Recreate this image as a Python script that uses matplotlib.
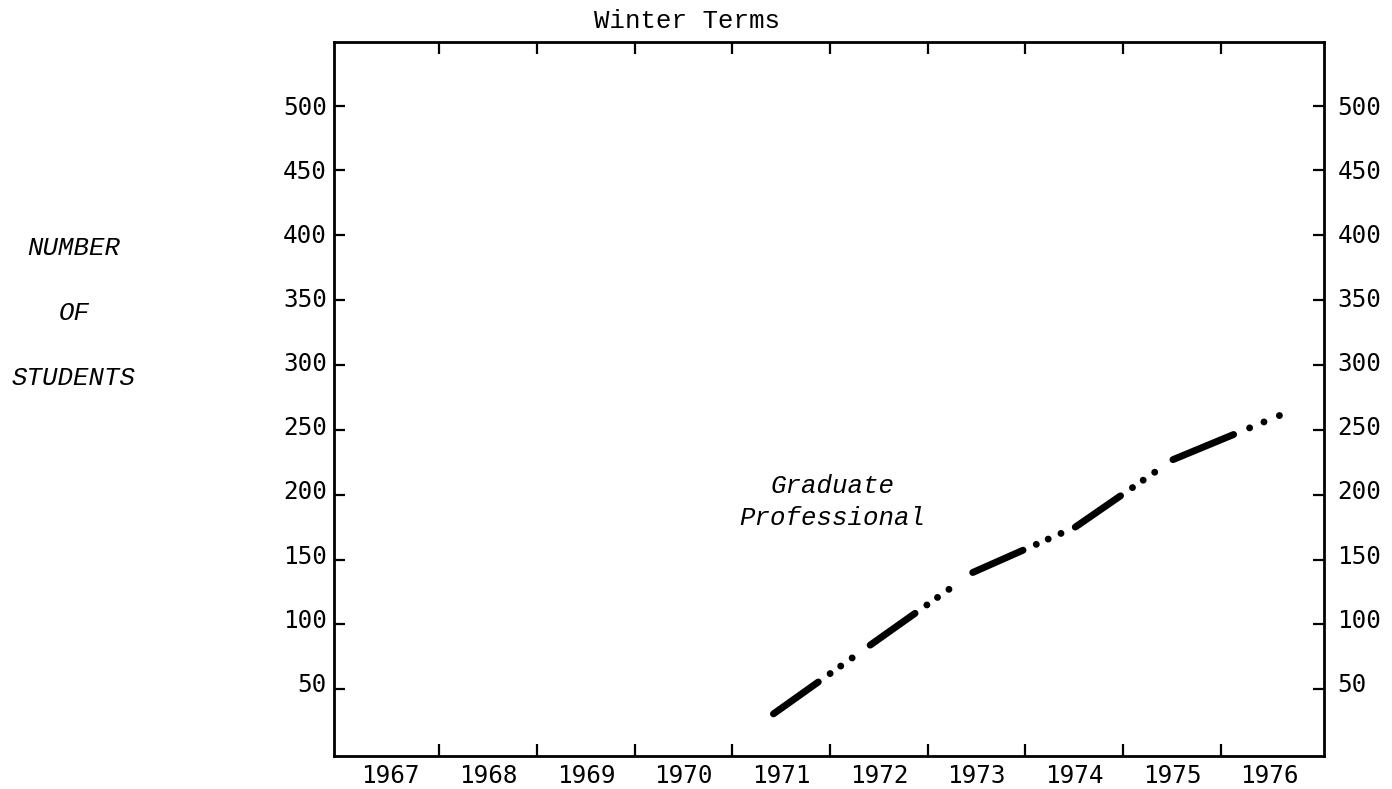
import matplotlib
matplotlib.use("Agg")
import matplotlib.pyplot as plt
import numpy as np
from matplotlib.transforms import ScaledTranslation

# ---- data ----
years = [1967, 1968, 1969, 1970, 1971, 1972, 1973, 1974, 1975, 1976]
term_pos = [1970.92, 1971.91, 1972.96, 1974.01, 1975.01, 1976.10]   # plotted x positions of the winter terms 1971-1976
students = [31, 84, 140, 175, 227, 261]
y_ticks = [50, 100, 150, 200, 250, 300, 350, 400, 450, 500]
title = "Winter Terms"
ylabel_lines = ["NUMBER", "OF", "STUDENTS"]
series_label = ["Graduate", "Professional"]

plt.rcParams['lines.scale_dashes'] = False
DPI = 100
PT = 72.0 / DPI  # px -> pt
fig = plt.figure(figsize=(13.92, 7.89), dpi=DPI)
ax = fig.add_axes([0.2399, 0.0418, 0.7115, 0.905])
ax.set_xlim(1966.42, 1976.56)
ax.set_ylim(-1.5, 549)

for s in ax.spines.values():
    s.set_linewidth(2.0)
    s.set_color('black')

# x: tick marks on year boundaries, labels centred on the years
boundaries = [y + 0.5 for y in years[:-1]]
ax.set_xticks(boundaries)
ax.set_xticklabels([])
ax.set_xticks(years, minor=True)
ax.set_xticklabels([str(y) for y in years], minor=True,
                   fontfamily='DejaVu Sans Mono', fontsize=17.5)
ax.tick_params(axis='x', which='major', direction='in', length=8.5, width=1.6,
               top=True, bottom=True)
ax.tick_params(axis='x', which='minor', length=0, pad=6, top=False, bottom=True)

# y: ticks both sides, labels both sides
ax.set_yticks(y_ticks)
ax.set_yticklabels([str(v) for v in y_ticks], fontfamily='DejaVu Sans Mono', fontsize=17.5)
ax.tick_params(axis='y', which='major', direction='in', length=8, width=1.6,
               left=True, right=True, labelleft=True, labelright=True, pad=5)

# typed labels drift slightly above their ticks toward the bottom
for t, v in zip(ax.yaxis.get_major_ticks(), y_ticks):
    dy = 7.0 * (500 - v) / 450.0
    t.label1.set_transform(t.label1.get_transform() +
                           ScaledTranslation(0, dy / DPI, fig.dpi_scale_trans))
    t.label2.set_transform(t.label2.get_transform() +
                           ScaledTranslation(6.0 / DPI, dy / DPI, fig.dpi_scale_trans))

# line: each segment starts with a dash followed by three dots
base_px = [55, 14.5, 0.01, 13, 0.01, 14, 0.01, 250]   # dash, gap, dot, gap, dot, gap, dot, rest
last_dot_px = sum(base_px[:7])
pts = ax.transData.transform(np.column_stack([term_pos, students]))
nseg = len(term_pos) - 1
for i in range(nseg):
    seg_len = float(np.hypot(*(pts[i + 1] - pts[i])))
    scale = seg_len / last_dot_px if i == nseg - 1 else 1.0
    pattern = [v * scale * PT for v in base_px[:7]] + [base_px[7] * PT]
    ax.plot(term_pos[i:i + 2], students[i:i + 2], color='black', lw=5.0,
            linestyle=(0, tuple(pattern)), dash_capstyle='round',
            solid_capstyle='round')

# texts
fig.text(687 / 1392, 1 - 28 / 789, title, ha='center', va='baseline',
         fontfamily='Liberation Mono', fontsize=18.5)
for txt, base in zip(ylabel_lines, [255, 320, 385]):
    fig.text(74 / 1392, 1 - base / 789, txt, ha='center', va='baseline',
             fontfamily='Liberation Mono', fontstyle='italic', fontsize=18.5)
for txt, base in zip(series_label, [493, 525]):
    fig.text(832.5 / 1392, 1 - base / 789, txt, ha='center', va='baseline',
             fontfamily='Liberation Mono', fontstyle='italic', fontsize=18.5)

fig.savefig("out.png", dpi=DPI, facecolor='white')
